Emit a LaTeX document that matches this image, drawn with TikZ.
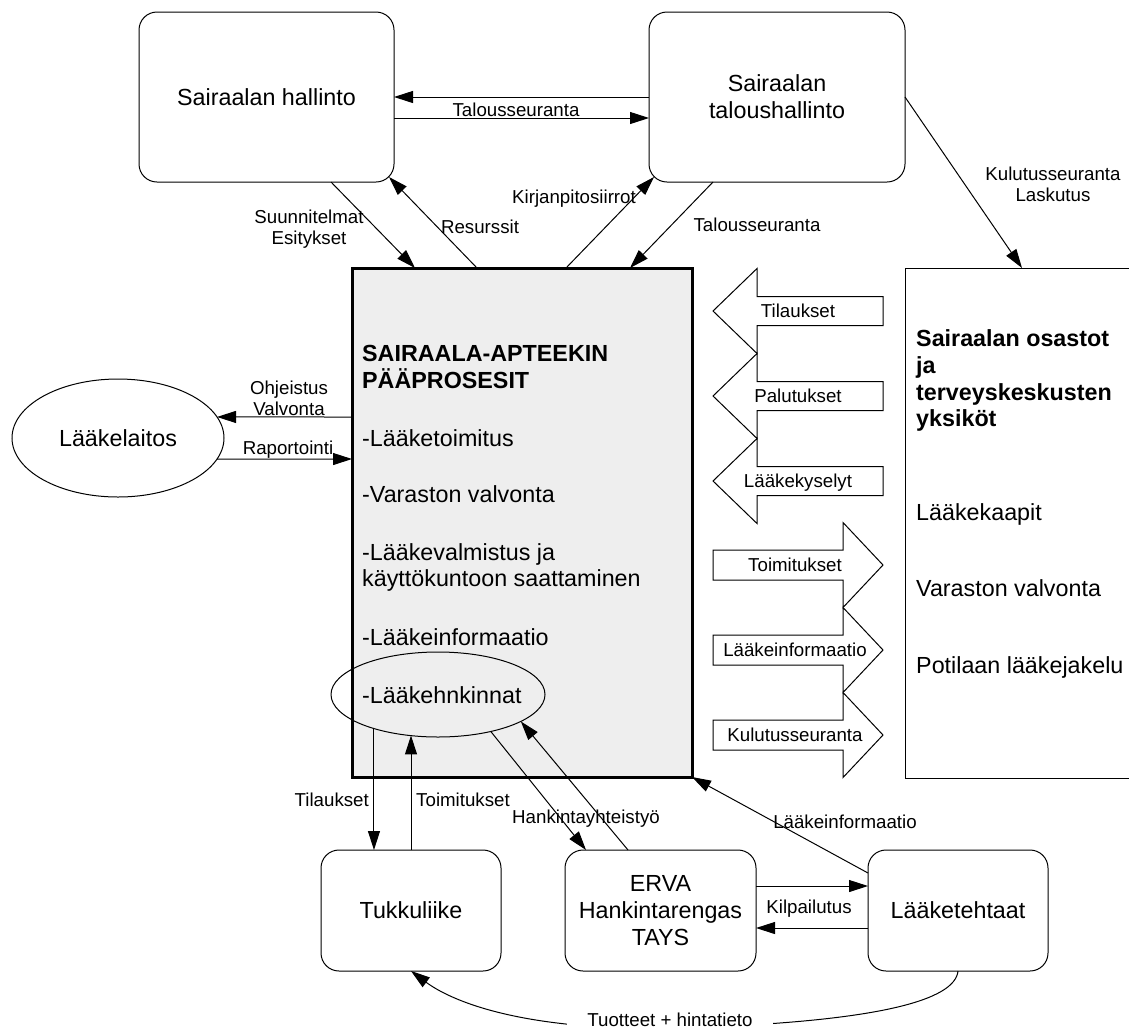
\documentclass[tikz,border=0pt]{standalone}
\usepackage{fontspec}
\setmainfont{Liberation Sans}
\usetikzlibrary{arrows.meta,shapes.geometric,calc}
\definecolor{boxgray}{RGB}{238,238,238}
\newcommand\fmain{\fontsize{23.3}{27}\selectfont}
\newcommand\fsmall{\fontsize{18.7}{21}\selectfont}
\begin{document}
\begin{tikzpicture}[x=1pt,y=-1pt,
  rbox/.style={draw, line width=1pt, rounded corners=18pt, inner sep=0pt, outer sep=0pt, align=center, font=\fmain},
  oval/.style={draw, line width=1pt, ellipse, inner sep=0pt, outer sep=0pt, font=\fmain},
  mtxt/.style={font=\fmain, anchor=west, inner sep=0pt, text height=16.7pt, text depth=0pt},
  btxt/.style={mtxt, font=\fmain\bfseries},
  sl/.style={font=\fsmall, inner sep=0pt, text height=13.4pt, text depth=0pt},
  ml/.style={font=\fsmall, align=center, inner sep=0pt},
  con/.style={line width=1pt, -{Triangle[length=19pt,width=12pt]}},
  blk/.style={draw, line width=1pt, fill=white}
]
\useasboundingbox (0,0) rectangle (1129,1029);
\clip (0,0) rectangle (1129,1029);

% main boxes
\node[rbox, minimum width=255pt, minimum height=170pt] (hal) at (266.5,97) {Sairaalan hallinto};
\node[rbox, minimum width=256pt, minimum height=170pt] (tal) at (777,97) {Sairaalan\\taloushallinto};
\node[draw, line width=3pt, fill=boxgray, minimum width=340pt, minimum height=509pt, inner sep=0pt, outer sep=0pt] (ap) at (522,522.5) {};
\node[draw, line width=1pt, minimum width=235pt, minimum height=510pt, inner sep=0pt, outer sep=0pt] (rb) at (1022.5,523) {};
\node[oval, minimum width=212pt, minimum height=118pt] (ll) at (118,438) {Lääkelaitos};
\node[rbox, minimum width=180pt, minimum height=121pt] (tk) at (411,910.5) {Tukkuliike};
\node[rbox, minimum width=191pt, minimum height=121pt] (er) at (660.5,910.5) {ERVA\\Hankintarengas\\TAYS};
\node[rbox, minimum width=180pt, minimum height=121pt] (lt) at (958,910.5) {Lääketehtaat};

% main box text
\node[btxt] (a1) at (362,353) {SAIRAALA-APTEEKIN};
\node[btxt] (a2) at (362,380) {PÄÄPROSESIT};
\node[mtxt] (a3) at (362,438) {-Lääketoimitus};
\node[mtxt] (a4) at (362,494) {-Varaston valvonta};
\node[mtxt] (a5) at (362,552) {-Lääkevalmistus ja};
\node[mtxt] (a6) at (362,578) {käyttökuntoon saattaminen};
\node[mtxt] (a7) at (362,637) {-Lääkeinformaatio};
\node[draw, ellipse, line width=1pt, minimum width=214pt, minimum height=85pt, inner sep=0pt, outer sep=0pt] (hk) at (438,694.5) {};
\node[mtxt] (a8) at (362,695) {-Lääkehnkinnat};

% right box text
\node[btxt] (b1) at (916,338) {Sairaalan osastot};
\node[btxt] (b2) at (916,365) {ja};
\node[btxt] (b3) at (916,392) {terveyskeskusten};
\node[btxt] (b4) at (916,418) {yksiköt};
\node[mtxt] (b5) at (916,512) {Lääkekaapit};
\node[mtxt] (b6) at (916,588) {Varaston valvonta};
\node[mtxt] (b7) at (916,665) {Potilaan lääkejakelu};

% block arrows (left-pointing)
\foreach \c/\t [count=\i] in {311/Tilaukset, 396/Palutukset, 481/Lääkekyselyt}{
  \draw[blk] (883,\c-14.5) -- (757,\c-14.5) -- (757,\c-42.5) -- (713,\c) -- (757,\c+42.5) -- (757,\c+14.5) -- (883,\c+14.5) -- cycle;
  \node[sl] (L\i) at (798,\c) {\t};
}
% block arrows (right-pointing)
\foreach \c/\t [count=\i] in {565/Toimitukset, 650/Lääkeinformaatio, 735/Kulutusseuranta}{
  \draw[blk] (713,\c-15) -- (843,\c-15) -- (843,\c-42.5) -- (883,\c) -- (843,\c+42.5) -- (843,\c+15) -- (713,\c+15) -- cycle;
  \node[sl] (R\i) at (795,\c) {\t};
}

% top connectors
\draw[con] (tal.west) -- (tal.west -| hal.east);
\draw[con] ($(hal.east)+(0,21)$) -- ($(tal.west)+(0,21)$);
\node[sl] (n1) at (516,110) {Talousseuranta};
\draw[con] ($(hal.south west)+(192,0)$) -- ($(ap.north west)+(63,0)$);
\node[ml] (n2) at (309,229) {Suunnitelmat\\Esitykset};
\draw[con] ($(ap.north west)+(125,0)$) -- ($(hal.south east)+(-5,-5)$);
\node[sl] (n3) at (480,227) {Resurssit};
\draw[con] ($(ap.north west)+(214,0)$) -- ($(tal.south west)+(5,-5)$);
\node[sl] (n4) at (574,197) {Kirjanpitosiirrot};
\draw[con] ($(tal.south west)+(64,0)$) -- ($(ap.north west)+(278,0)$);
\node[sl] (n5) at (757,225) {Talousseuranta};
\draw[con] (tal.east) -- ($(rb.north west)+(117,0)$);
\node[ml] (n6) at (1053,184) {Kulutusseuranta\\Laskutus};

% Laakelaitos
\draw[con] ($(ap.north west)+(0,149)$) -- (ll.12);
\node[ml] (n7) at (289,398) {Ohjeistus\\Valvonta};
\draw[con] (ll.-12) -- ($(ap.north west)+(0,191)$);
\node[sl] (n8) at (288,448) {Raportointi};

% bottom connectors
\draw[con] (hk.208) -- (hk.208 |- tk.north);
\node[sl, anchor=east] (n9) at (369,800) {Tilaukset};
\draw[con] (tk.north) -- (tk.north |- hk.235);
\node[sl] (n10) at (463,800) {Toimitukset};
\draw[con] (hk.325) -- ($(er.north west)+(21,0)$);
\node[sl] (n11) at (586,817) {Hankintayhteistyö};
\draw[con] ($(er.north west)+(63,0)$) -- (hk.342);
\draw[con] ($(lt.north west)+(0,23)$) -- (ap.south east);
\node[sl] (n12) at (845,822) {Lääkeinformaatio};
\draw[con] ($(er.north east)+(0,36)$) -- ($(lt.north west)+(0,36)$);
\draw[con] ($(lt.north west)+(0,78)$) -- ($(er.north east)+(0,78)$);
\node[sl] (n13) at (809,907) {Kilpailutus};
\coordinate (tb) at (680,1028);
\draw[con] (lt.south) .. controls (955,1000) and (880,1022) .. (tb) .. controls (520,1032) and (450,1000) .. (tk.south);
\node[sl, fill=white, inner xsep=20pt, inner ysep=4pt] (n14) at (670,1020) {Tuotteet + hintatieto};
\end{tikzpicture}
\end{document}
